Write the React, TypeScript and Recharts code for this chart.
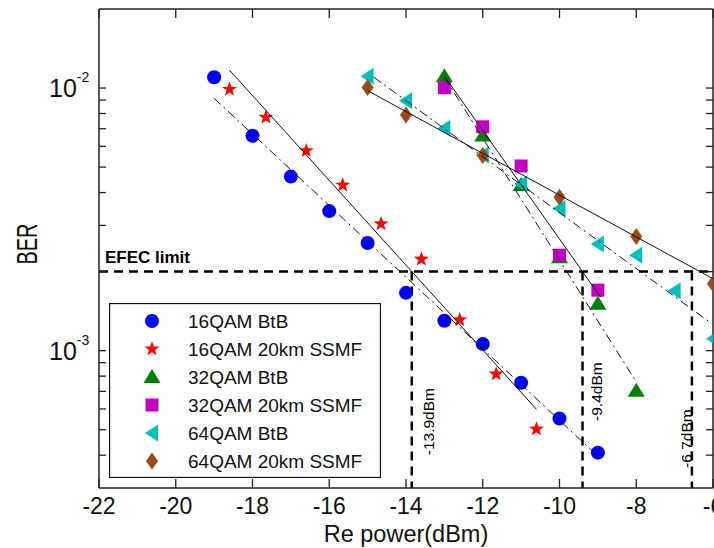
import React from "react";
import { Legend, ReferenceLine, Scatter, ScatterChart, XAxis, YAxis } from "recharts";

const FONT = "'Liberation Sans', Arial, Helvetica, sans-serif";
const INK = "#111";
const AXIS = "#222";
const PLOT_W = 614;
const PLOT_H = 479;

const xTicks = [-22, -20, -18, -16, -14, -12, -10, -8, -6];
const yTicks = [
  4e-4, 5e-4, 6e-4, 7e-4, 8e-4, 9e-4, 1e-3, 2e-3, 3e-3, 4e-3, 5e-3, 6e-3, 7e-3, 8e-3, 9e-3, 1e-2,
];

// measured points
const qam16BtbX = [-19, -18, -17, -16, -15, -14, -13, -12, -11, -10, -9];
const qam16BtbBer = [0.011, 0.00658, 0.0046, 0.0034, 0.00257, 0.00166, 0.0013, 0.00106, 0.000755, 0.000552, 0.000409];

const qam16SsmfX = [-18.6, -17.65, -16.6, -15.65, -14.65, -13.6, -12.6, -11.65, -10.6];
const qam16SsmfBer = [0.00989, 0.00774, 0.00577, 0.00427, 0.00304, 0.00223, 0.00131, 0.000815, 0.000503];

const qam32BtbX = [-13, -12, -11, -10, -9, -8];
const qam32BtbBer = [0.0111, 0.0066, 0.00427, 0.00227, 0.00151, 0.000704];

const qam32SsmfX = [-13, -12, -11, -10, -9];
const qam32SsmfBer = [0.01003, 0.00712, 0.00505, 0.00231, 0.0017];

const qam64BtbX = [-15, -14, -13, -12, -11, -10, -9, -8, -7, -6];
const qam64BtbBer = [0.0111, 0.00895, 0.00703, 0.00556, 0.00431, 0.00348, 0.00255, 0.00231, 0.00169, 0.00111];

const qam64SsmfX = [-15, -14, -12, -10, -8, -6];
const qam64SsmfBer = [0.01006, 0.0079, 0.00553, 0.00384, 0.00272, 0.0018];

// linear fits (end points)
const fit16BtbX = [-19, -9];
const fit16BtbBer = [0.00914, 0.000397];
const fit16SsmfX = [-18.6, -10.6];
const fit16SsmfBer = [0.0117, 0.000598];
const fit32BtbX = [-13, -8];
const fit32BtbBer = [0.011, 0.00076];
const fit32SsmfX = [-13, -8.93];
const fit32SsmfBer = [0.0111, 0.0016];
const fit64BtbX = [-14.84, -6.04];
const fit64BtbBer = [0.011, 0.00127];
const fit64SsmfX = [-15, -6];
const fit64SsmfBer = [0.00977, 0.00188];

const efecLimit = 2e-3;
const sensX = [-13.85, -9.4, -6.55];
const sensLabels = ["-13.9dBm", "-9.4dBm", "-6.7dBm"];

type Pt = { x: number; y: number };
type Kind = "circle" | "star" | "triangle" | "square" | "left" | "diamond";

const zip = (xs: number[], ys: number[]): Pt[] => xs.map((x, i) => ({ x, y: ys[i] }));

const series = [
  { name: "16QAM BtB", kind: "circle" as Kind, color: "#0000FF", pts: zip(qam16BtbX, qam16BtbBer), fit: zip(fit16BtbX, fit16BtbBer), btb: true },
  { name: "16QAM 20km SSMF", kind: "star" as Kind, color: "#FF0000", pts: zip(qam16SsmfX, qam16SsmfBer), fit: zip(fit16SsmfX, fit16SsmfBer), btb: false },
  { name: "32QAM BtB", kind: "triangle" as Kind, color: "#008000", pts: zip(qam32BtbX, qam32BtbBer), fit: zip(fit32BtbX, fit32BtbBer), btb: true },
  { name: "32QAM 20km SSMF", kind: "square" as Kind, color: "#BF00BF", pts: zip(qam32SsmfX, qam32SsmfBer), fit: zip(fit32SsmfX, fit32SsmfBer), btb: false },
  { name: "64QAM BtB", kind: "left" as Kind, color: "#00BFBF", pts: zip(qam64BtbX, qam64BtbBer), fit: zip(fit64BtbX, fit64BtbBer), btb: true },
  { name: "64QAM 20km SSMF", kind: "diamond" as Kind, color: "#9C4A16", pts: zip(qam64SsmfX, qam64SsmfBer), fit: zip(fit64SsmfX, fit64SsmfBer), btb: false },
];

function Marker({ kind, cx, cy, color }: { kind: Kind; cx: number; cy: number; color: string }) {
  switch (kind) {
    case "circle":
      return <circle cx={cx} cy={cy} r={7} fill={color} />;
    case "star": {
      const pts: string[] = [];
      for (let i = 0; i < 10; i++) {
        const r = i % 2 === 0 ? 7.8 : 3.2;
        const a = -Math.PI / 2 + (i * Math.PI) / 5;
        pts.push(`${cx + r * Math.cos(a)},${cy + r * Math.sin(a)}`);
      }
      return <polygon points={pts.join(" ")} fill={color} />;
    }
    case "triangle":
      return <polygon points={`${cx},${cy - 8} ${cx + 8.5},${cy + 6} ${cx - 8.5},${cy + 6}`} fill={color} />;
    case "square":
      return <rect x={cx - 6.5} y={cy - 6.5} width={13} height={13} fill={color} />;
    case "left":
      return <polygon points={`${cx - 7},${cy} ${cx + 6},${cy - 8.5} ${cx + 6},${cy + 8.5}`} fill={color} />;
    default:
      return <polygon points={`${cx},${cy - 8.5} ${cx + 6},${cy} ${cx},${cy + 8.5} ${cx - 6},${cy}`} fill={color} />;
  }
}

function XTick(props: any) {
  const { x, y, payload } = props;
  return (
    <g>
      <line x1={x} x2={x} y1={y} y2={y - 9} stroke={AXIS} strokeWidth={1.3} />
      <line x1={x} x2={x} y1={y - PLOT_H} y2={y - PLOT_H + 9} stroke={AXIS} strokeWidth={1.3} />
      <text x={x} y={y + 26} textAnchor="middle" fontSize={23} fontFamily={FONT} fill={INK}>
        {payload.value}
      </text>
    </g>
  );
}

function YTick(props: any) {
  const { x, y, payload } = props;
  const lg = Math.log10(payload.value);
  const exp = Math.round(lg);
  const major = Math.abs(lg - exp) < 1e-6;
  return (
    <g>
      <line x1={x} x2={x + 7} y1={y} y2={y} stroke={AXIS} strokeWidth={1.3} />
      <line x1={x + PLOT_W} x2={x + PLOT_W - 7} y1={y} y2={y} stroke={AXIS} strokeWidth={1.3} />
      {major ? (
        <text x={x - 50} y={y + 9} fontSize={25} fontFamily={FONT} fill={INK}>
          10
          <tspan dy={-15} fontSize={14}>
            {String(exp)}
          </tspan>
        </text>
      ) : null}
    </g>
  );
}

function LegendBox() {
  return (
    <svg width={272} height={175} style={{ display: "block" }}>
      <rect x={0.5} y={0.5} width={271} height={174} fill="#fff" stroke="#111" strokeWidth={1.3} />
      {series.map((s, i) => {
        const cy = 18 + i * 28;
        return (
          <g key={s.name}>
            <Marker kind={s.kind} cx={43} cy={cy} color={s.color} />
            <text x={79} y={cy + 7} fontSize={19} fontFamily={FONT} fill={INK}>
              {s.name}
            </text>
          </g>
        );
      })}
    </svg>
  );
}

export default function App() {
  return (
    <div style={{ position: "absolute", left: 0, top: 0, background: "#fff" }}>
      <ScatterChart width={714} height={548} margin={{ top: 9, right: 1, bottom: 0, left: 0 }}>
        <XAxis
          type="number"
          dataKey="x"
          domain={[-22, -6]}
          ticks={xTicks}
          interval={0}
          allowDataOverflow
          height={60}
          tickSize={0}
          tickMargin={0}
          tickLine={false}
          axisLine={{ stroke: AXIS, strokeWidth: 1.5 }}
          tick={XTick}
          label={(p: any) => (
            <text
              x={p.viewBox.x + p.viewBox.width / 2}
              y={p.viewBox.y + 54}
              textAnchor="middle"
              fontSize={23.5}
              fontFamily={FONT}
              fill={INK}
            >
              Re power(dBm)
            </text>
          )}
        />
        <YAxis
          type="number"
          dataKey="y"
          scale="log"
          domain={[3e-4, 2e-2]}
          ticks={yTicks}
          interval={0}
          allowDataOverflow
          width={99}
          tickSize={0}
          tickMargin={0}
          tickLine={false}
          axisLine={{ stroke: AXIS, strokeWidth: 1.5 }}
          tick={YTick}
          label={(p: any) => {
            const cx = p.viewBox.x + 26;
            const cy = p.viewBox.y + 235;
            return (
              <text
                x={cx}
                y={cy}
                transform={`rotate(-90 ${cx} ${cy})`}
                textAnchor="middle"
                dominantBaseline="central"
                fontSize={30}
                textLength={41}
                lengthAdjust="spacingAndGlyphs"
                fontFamily={FONT}
                fill={INK}
              >
                BER
              </text>
            );
          }}
        />
        <ReferenceLine y={2e-2} stroke={AXIS} strokeWidth={1.5} />
        <ReferenceLine x={-6} stroke={AXIS} strokeWidth={1.5} />
        {series.map((s) => (
          <Scatter
            key={s.name}
            name={s.name}
            data={s.pts}
            isAnimationActive={false}
            shape={(p: any) => <Marker kind={s.kind} cx={p.cx} cy={p.cy} color={s.color} />}
          />
        ))}
        {series.map((s) => (
          <Scatter
            key={s.name + "-fit"}
            data={s.fit}
            isAnimationActive={false}
            legendType="none"
            line={{ stroke: "#111", strokeWidth: 1, strokeDasharray: s.btb ? "9 4 2 4" : undefined }}
            shape={() => <g />}
          />
        ))}
        <ReferenceLine
          y={efecLimit}
          stroke="#000"
          strokeWidth={2.5}
          strokeDasharray="9 6"
          label={(p: any) => (
            <text x={p.viewBox.x + 6} y={p.viewBox.y - 9} fontSize={17} fontWeight="bold" fontFamily={FONT} fill="#000">
              EFEC limit
            </text>
          )}
        />
        {sensX.map((sx, i) => {
          const dx = [17, 14, -5][i];
          const dy = [150, 120, 167][i];
          return (
            <ReferenceLine
              key={sensLabels[i]}
              segment={[
                { x: sx, y: efecLimit },
                { x: sx, y: 3e-4 },
              ]}
              stroke="#000"
              strokeWidth={2.5}
              strokeDasharray="9 6"
              label={(p: any) => {
                const cx = p.viewBox.x + dx;
                const cy = p.viewBox.y + dy;
                return (
                  <text
                    x={cx}
                    y={cy}
                    transform={`rotate(-90 ${cx} ${cy})`}
                    textAnchor="middle"
                    dominantBaseline="central"
                    fontSize={15.5}
                    fontFamily={FONT}
                    fill="#000"
                  >
                    {sensLabels[i]}
                  </text>
                );
              }}
            />
          );
        })}
        <Legend
          layout="horizontal"
          verticalAlign="middle"
          align="center"
          wrapperStyle={{ left: 109, top: 303, width: 272, height: 175 }}
          content={() => <LegendBox />}
        />
      </ScatterChart>
    </div>
  );
}
